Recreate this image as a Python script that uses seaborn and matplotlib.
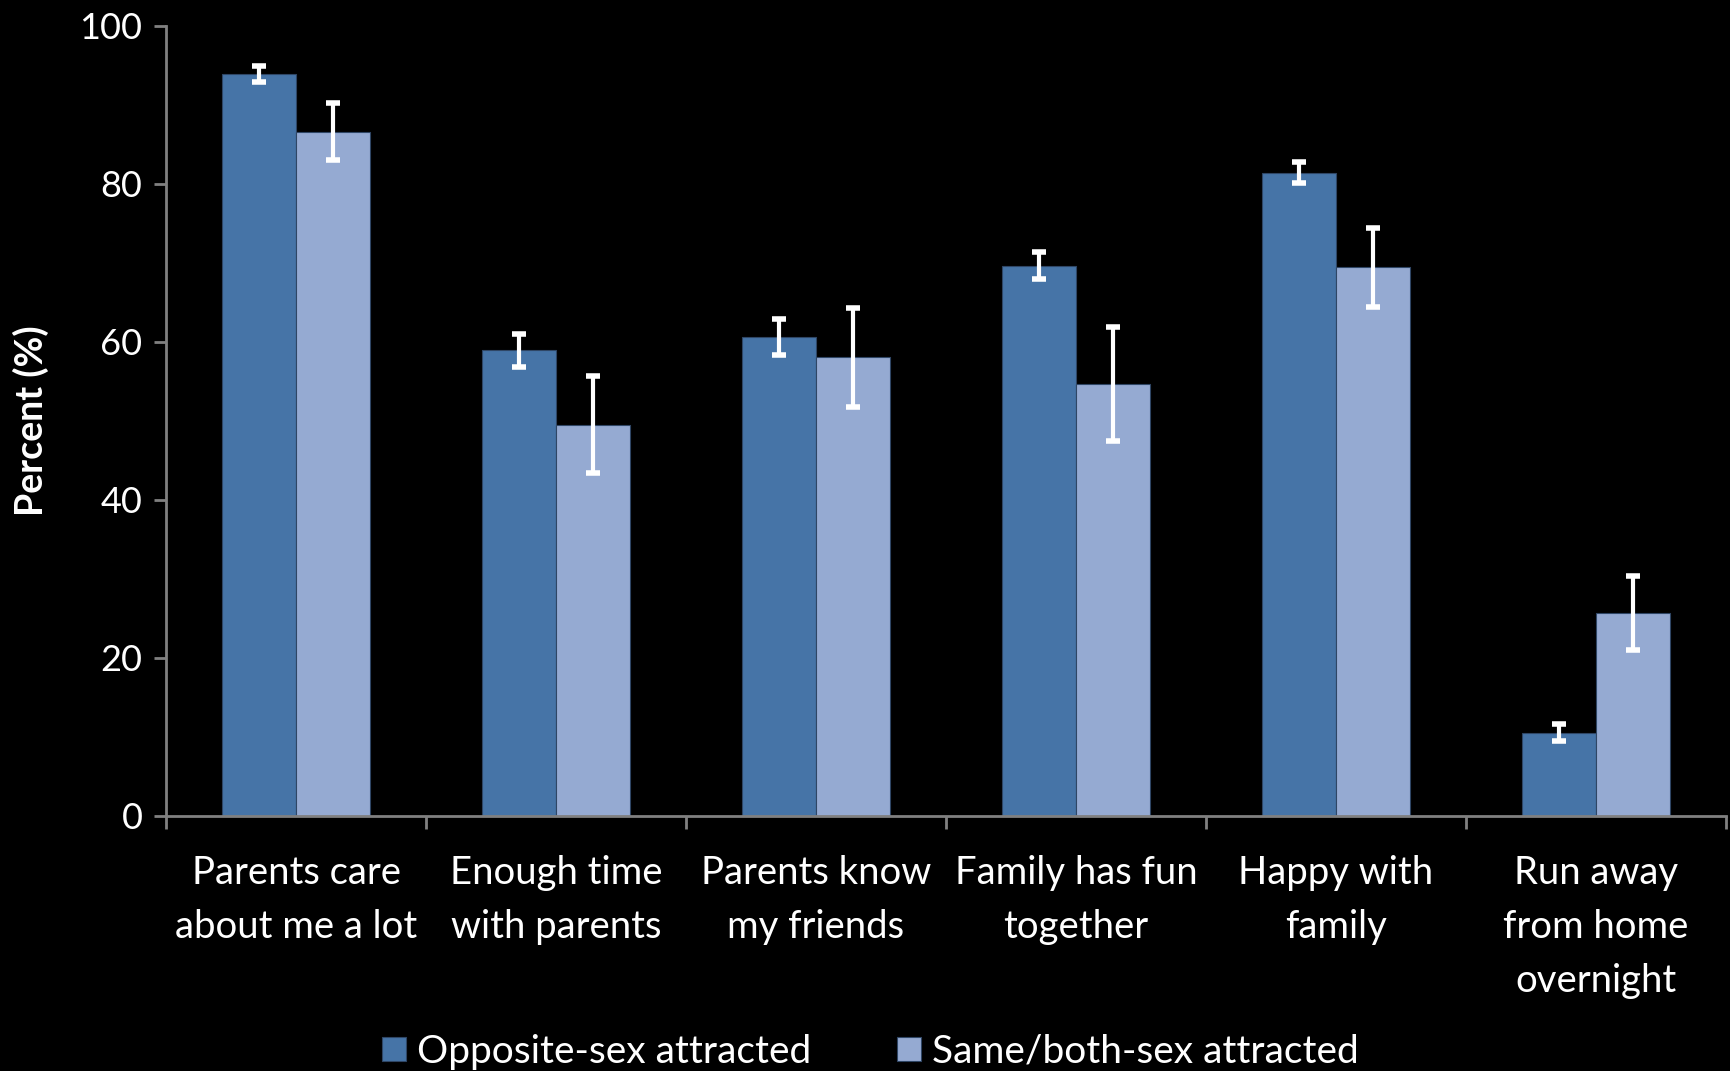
import numpy as np
import pandas as pd
import matplotlib
matplotlib.use("Agg")
import matplotlib.pyplot as plt
import seaborn as sns

categories = ["Parents care\nabout me a lot", "Enough time\nwith parents", "Parents know\nmy friends",
              "Family has fun\ntogether", "Happy with\nfamily", "Run away\nfrom home\novernight"]
groups = ["Opposite-sex attracted", "Same/both-sex attracted"]
opposite_vals = [93.9, 58.9, 60.6, 69.6, 81.4, 10.5]
opposite_err = [1.0, 2.1, 2.3, 1.7, 1.3, 1.1]
same_vals = [86.6, 49.5, 58.0, 54.6, 69.4, 25.7]
same_err = [3.6, 6.1, 6.3, 7.2, 5.0, 4.7]
colors = ["#4674A7", "#95AAD2"]

df = pd.DataFrame({
    "category": categories * 2,
    "group": [groups[0]] * 6 + [groups[1]] * 6,
    "value": opposite_vals + same_vals,
})
errors = [opposite_err, same_err]

sns.set_style("dark")
plt.rcParams["font.family"] = ["Lato", "DejaVu Sans"]

fig = plt.figure(figsize=(17.31, 10.71), dpi=100, facecolor="black")
ax = fig.add_axes([0.0959, 0.2384, 0.9012, 0.7376])
ax.set_facecolor("black")

sns.barplot(data=df, x="category", y="value", hue="group", palette=colors,
            saturation=1, width=0.57, errorbar=None, edgecolor="#2f4665",
            linewidth=0.8, ax=ax)

# error bars on top of each bar
for cont, err in zip(ax.containers, errors):
    xs = [b.get_x() + b.get_width() / 2 for b in cont]
    hs = [b.get_height() for b in cont]
    ax.errorbar(xs, hs, yerr=err, fmt="none", ecolor="white", elinewidth=3,
                capsize=5, capthick=4, zorder=5)

ax.set_ylim(0, 100)
ax.set_xlim(-0.5, len(categories) - 0.5)
ax.set_yticks(np.arange(0, 101, 20))
ax.tick_params(axis="y", left=True, labelcolor="white", color="#808080",
               labelsize=26, length=9, width=2, pad=8)

# boundary ticks and centred labels
ax.set_xticks(np.arange(-0.5, len(categories), 1.0))
ax.set_xticklabels([])
ax.set_xticks(np.arange(len(categories)), minor=True)
ax.set_xticklabels(categories, minor=True, color="white", fontsize=27.5, linespacing=1.62)
ax.tick_params(axis="x", which="major", bottom=True, color="#808080", length=9, width=2)
ax.tick_params(axis="x", which="minor", bottom=True, length=0, pad=28.5)

ax.set_xlabel("")
ax.set_ylabel("Percent (%)", color="white", fontsize=27, fontweight="bold", labelpad=22)
ax.grid(False)
for s in ["top", "right"]:
    ax.spines[s].set_visible(False)
for s in ["left", "bottom"]:
    ax.spines[s].set_visible(True)
    ax.spines[s].set_color("#808080")
    ax.spines[s].set_linewidth(2)

handles, labels = ax.get_legend_handles_labels()
ax.get_legend().remove()
leg = fig.legend(handles, labels, loc="center", bbox_to_anchor=(0.503, 0.018), ncol=2,
                 frameon=False, fontsize=28, handlelength=0.6, handleheight=0.6,
                 handletextpad=0.3, columnspacing=2.2)
for t in leg.get_texts():
    t.set_color("white")

fig.savefig("out.png", dpi=100, facecolor="black")
